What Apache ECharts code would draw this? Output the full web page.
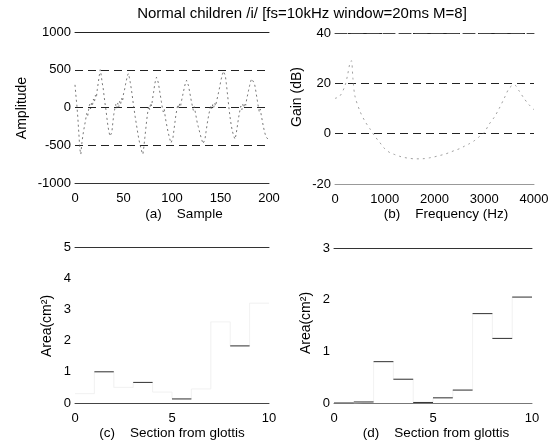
<!DOCTYPE html>
<html><head><meta charset="utf-8">
<script src="https://cdn.jsdelivr.net/npm/echarts@6/dist/echarts.min.js"></script>
<style>html,body{margin:0;padding:0;background:#fff}#c{width:556px;height:445px}</style>
</head><body><div id="c"></div>
<script>
// ---- data ----
const titleText = 'Normal children /i/ [fs=10kHz window=20ms M=8]';
const waveform = [
 300,150,20,-150,-350,-550,-620,
 -480,-380,-300,-230,-160,-80,-120,-30,40,-20,60,30,110,70,160,130,240,330,420,500,
 430,330,260,150,50,-40,-150,-250,-320,-380,-400,
 -330,-200,-90,-20,40,-10,60,0,80,40,120,80,180,230,300,360,420,450,
 400,330,250,160,60,-30,-120,-200,-280,-360,-430,-490,-540,-590,-620,
 -520,-400,-280,-160,-60,20,-30,60,20,120,200,290,360,400,
 370,320,240,160,80,0,-60,-20,-120,-200,-260,-330,-380,-430,-470,-490,
 -400,-300,-200,-100,-30,40,-10,60,30,100,160,220,280,330,360,
 340,290,220,150,80,20,-40,10,-60,-130,-200,-250,-300,-350,-400,-440,-480,-500,
 -420,-330,-240,-160,-90,-30,30,-20,40,0,60,20,90,140,200,260,330,390,440,480,500,
 420,320,200,80,-40,-140,-230,-300,-350,-390,-420,
 -360,-280,-190,-110,-40,20,-30,40,0,60,30,110,170,230,290,340,380,400,
 370,320,250,170,90,10,-60,-20,-100,-170,-240,-300,-350,-390,-410,-420
];
const freqHz = [0,100,200,250,300,330,360,400,500,600,700,800,900,1000,1100,1200,1300,1400,1500,1600,1700,1800,1900,2000,2100,2200,2300,2400,2500,2600,2700,2800,2900,3000,3100,3200,3300,3400,3500,3600,3700,3800,3900,4000];
const gainDb = [14,15,19,23,28,29,22,15,9,5,2,-1,-3.5,-6,-7.5,-8.3,-9,-9.5,-9.8,-10,-10,-9.9,-9.6,-9.2,-8.7,-8.2,-7.5,-6.7,-6,-5,-4,-2.8,-1.2,0.5,3.8,6.5,10,14,18,19.5,17,14,11.5,9.5];
const areaC = [0.3,1.0,0.5,0.66,0.35,0.13,0.45,2.6,1.83,3.2];
const visibleC = [0,1,0,1,0,1,0,0,1,0];
const areaD = [0,0.02,0.8,0.46,0.01,0.1,0.25,1.73,1.25,2.05];
const visibleD = [1,1,1,1,1,1,1,1,1,1];
const ticksA_x = [0,50,100,150,200], ticksA_y = [-1000,-500,0,500,1000];
const ticksB_x = [0,1000,2000,3000,4000], ticksB_y = [-20,0,20,40];
const ticksC_x = [0,5,10], ticksC_y = [0,1,2,3,4,5];
const ticksD_x = [0,5,10], ticksD_y = [0,1,2,3];
const xLabels = ['(a)    Sample','(b)    Frequency (Hz)','(c)    Section from glottis','(d)    Section from glottis'];
const yLabels = ['Amplitude','Gain (dB)','Area(cm²)','Area(cm²)'];

// ---- build ----
const FONT = '"Liberation Sans", Arial, sans-serif';
const grids = [
  {left:75, top:32, width:194, height:151},
  {left:335, top:33, width:199, height:151},
  {left:75, top:247, width:194, height:156},
  {left:334, top:248, width:198, height:155}
];
const ticks = [[ticksA_x,ticksA_y],[ticksB_x,ticksB_y],[ticksC_x,ticksC_y],[ticksD_x,ticksD_y]];
const bottomColor = ['#333','#999','#444','#777'];
const topStyle = [{color:'#222',type:'solid'},{color:'#444',type:[12,4]},{color:'#333',type:'solid'},{color:'#333',type:'solid'}];
const showGrid = [true,true,false,false];
const plain = v => String(v);
const xAxis = [], yAxis = [];
ticks.forEach((t,i)=>{
  const tx=t[0], ty=t[1];
  xAxis.push({gridIndex:i,type:'value',position:'bottom',min:tx[0],max:tx[tx.length-1],interval:tx[1]-tx[0],
    axisLine:{show:true,onZero:false,lineStyle:{color:bottomColor[i],width:1}},axisTick:{show:false},
    axisLabel:{fontSize:13,color:'#000',fontFamily:FONT,margin:9,formatter:plain},splitLine:{show:false}});
  xAxis.push({gridIndex:i,type:'value',position:'top',min:tx[0],max:tx[tx.length-1],
    axisLine:{show:true,onZero:false,lineStyle:Object.assign({width:1},topStyle[i])},axisTick:{show:false},
    axisLabel:{show:false},splitLine:{show:false}});
  yAxis.push({gridIndex:i,type:'value',min:ty[0],max:ty[ty.length-1],interval:ty[1]-ty[0],
    axisLine:{show:false},axisTick:{show:false},
    axisLabel:{fontSize:13,color:'#000',fontFamily:FONT,margin:4,formatter:plain},
    splitLine:{show:showGrid[i],lineStyle:{color:'#222',type:[8,5],width:1}}});
});
function stepData(vals){ const d = vals.map((v,i)=>[i,v]); d.push([vals.length, vals[vals.length-1]]); return d; }
function segData(vals,vis){ const d=[]; vals.forEach((v,i)=>{ if(vis[i]){ d.push([i,v],[i+1,v],[i+1,null]); } }); return d; }
const series = [
  {type:'line',xAxisIndex:0,yAxisIndex:0,data:waveform.map((v,i)=>[i,v]),symbol:'none',
    lineStyle:{color:'#555',width:0.8,type:[2,3]}},
  {type:'line',xAxisIndex:2,yAxisIndex:1,data:freqHz.map((f,i)=>[f,gainDb[i]]),symbol:'none',smooth:0.3,
    lineStyle:{color:'#888',width:0.8,type:[2,4]}},
  {type:'line',xAxisIndex:4,yAxisIndex:2,data:stepData(areaC),step:'end',symbol:'none',
    lineStyle:{color:'#eee',width:0.8}},
  {type:'line',xAxisIndex:4,yAxisIndex:2,data:segData(areaC,visibleC),symbol:'none',connectNulls:false,
    lineStyle:{color:'#333',width:1}},
  {type:'line',xAxisIndex:6,yAxisIndex:3,data:stepData(areaD),step:'end',symbol:'none',
    lineStyle:{color:'#eee',width:0.8}},
  {type:'line',xAxisIndex:6,yAxisIndex:3,data:segData(areaD,visibleD),symbol:'none',connectNulls:false,
    lineStyle:{color:'#333',width:1}}
];
const xLabPos = [[184,214],[446,214],[172,433],[436,433]];
const yLabPos = [[22,108],[297,97],[47,326],[306,323]];
const graphic = [{type:'text',x:302,y:14,style:{text:titleText,font:'15px '+FONT,fill:'#000',textAlign:'center',textVerticalAlign:'middle'}}];
xLabels.forEach((t,i)=>graphic.push({type:'text',x:xLabPos[i][0],y:xLabPos[i][1],style:{text:t,font:'13.5px '+FONT,fill:'#000',textAlign:'center',textVerticalAlign:'middle'}}));
yLabels.forEach((t,i)=>graphic.push({type:'text',x:yLabPos[i][0],y:yLabPos[i][1],rotation:Math.PI/2,style:{text:t,font:'14px '+FONT,fill:'#000',textAlign:'center',textVerticalAlign:'middle'}}));
const chart = echarts.init(document.getElementById('c'),null,{renderer:'canvas'});
chart.setOption({animation:false,backgroundColor:'#fff',grid:grids,xAxis,yAxis,series,graphic});
</script></body></html>
